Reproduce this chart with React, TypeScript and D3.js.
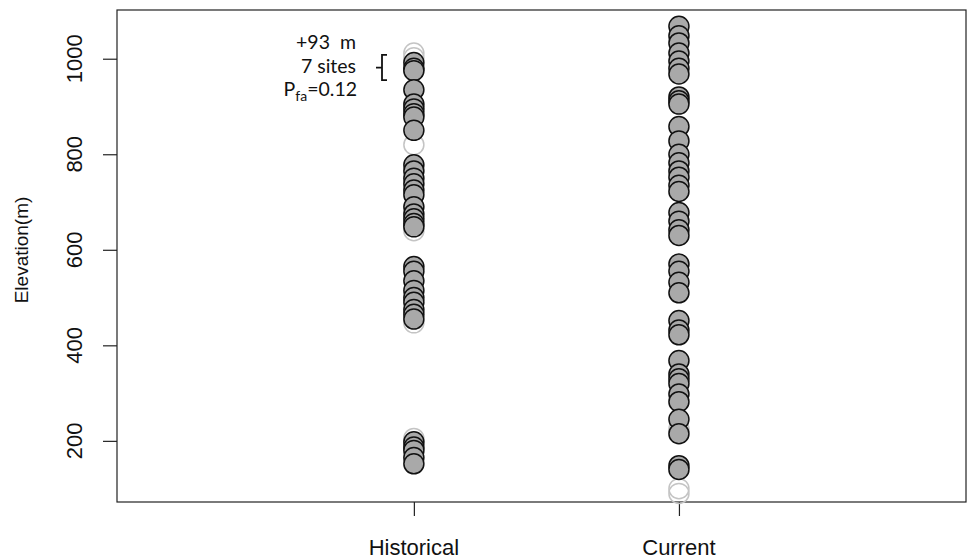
import React, { useEffect, useRef } from 'react';
import * as d3 from 'd3';

// groups on the x axis
const groups = ['Historical', 'Current'];

// elevation of sites kept in the analysis (filled)
const historicalSites = [
  992, 980, 975, 935, 905, 895, 885, 878, 850,
  778, 765, 750, 738, 725, 715, 690, 675, 665, 655, 648,
  565, 555, 535, 515, 500, 490, 475, 465, 455,
  198, 187, 180, 165, 152,
];
const currentSites = [
  1068, 1048, 1033, 1012, 995, 980, 968, 920, 912, 905,
  858, 828, 800, 782, 765, 752, 735, 722, 678, 660, 642, 630,
  570, 555, 532, 510, 452, 432, 422, 368, 340, 330, 320, 298, 282,
  245, 215, 148, 140,
];

// sites dropped (open grey rings)
const historicalDropped = [1012, 1002, 900, 820, 640, 447, 205, 195];
const currentDropped = [225, 100, 90];

const yTicks = [200, 400, 600, 800, 1000];

const annotationLines = ['+93  m', '7 sites'];
const pfaValue = '=0.12';

const App = () => {
  const svgRef = useRef<SVGSVGElement>(null);

  useEffect(() => {
    const svg = d3.select(svgRef.current);
    svg.selectAll('*').remove();

    const width = 972;
    const height = 559;
    const margin = { top: 10, right: 6, bottom: 57, left: 117 };
    const font = '"Liberation Sans", Arial, sans-serif';

    // x: group 1 and 2, padded like R's xlim
    const x = d3.scaleLinear()
      .domain([-0.12, 3.083])
      .range([margin.left, width - margin.right]);

    const y = d3.scaleLinear()
      .domain([72, 1102])
      .range([height - margin.bottom, margin.top]);

    // frame
    svg.append('rect')
      .attr('x', margin.left)
      .attr('y', margin.top)
      .attr('width', width - margin.right - margin.left)
      .attr('height', height - margin.bottom - margin.top)
      .attr('fill', 'none')
      .attr('stroke', '#222')
      .attr('stroke-width', 1.2);

    // y axis
    const yAxis = svg.append('g')
      .attr('transform', `translate(${margin.left},0)`)
      .call(d3.axisLeft(y).tickValues(yTicks).tickSize(14).tickFormat(() => ''));
    yAxis.select('.domain').remove();
    yAxis.selectAll('line').attr('stroke', '#222').attr('stroke-width', 1.2);

    svg.append('g')
      .selectAll('text')
      .data(yTicks)
      .join('text')
      .attr('transform', d => `translate(82,${y(d)}) rotate(-90)`)
      .attr('text-anchor', 'middle')
      .attr('font-family', font)
      .attr('font-size', 22)
      .attr('fill', '#111')
      .text(d => d);

    svg.append('text')
      .attr('transform', `translate(28,250) rotate(-90)`)
      .attr('text-anchor', 'middle')
      .attr('font-family', font)
      .attr('font-size', 19)
      .attr('fill', '#111')
      .text('Elevation(m)');

    // x axis
    const xAxis = svg.append('g')
      .attr('transform', `translate(0,${height - margin.bottom})`)
      .call(d3.axisBottom(x).tickValues([1, 2]).tickSize(14).tickFormat(() => ''));
    xAxis.select('.domain').remove();
    xAxis.selectAll('line').attr('stroke', '#222').attr('stroke-width', 1.2);

    svg.append('g')
      .selectAll('text')
      .data(groups)
      .join('text')
      .attr('x', (d, i) => x(i + 1))
      .attr('y', 555)
      .attr('text-anchor', 'middle')
      .attr('font-family', font)
      .attr('font-size', 22)
      .attr('fill', '#111')
      .text(d => d);

    // points
    const r = 10;
    const dropped = [historicalDropped, currentDropped];
    const kept = [historicalSites, currentSites];

    dropped.forEach((vals, i) => {
      svg.append('g')
        .selectAll('circle')
        .data(vals)
        .join('circle')
        .attr('cx', x(i + 1))
        .attr('cy', d => y(d))
        .attr('r', r)
        .attr('fill', 'none')
        .attr('stroke', '#c4c4c4')
        .attr('stroke-width', 1.5);
    });

    kept.forEach((vals, i) => {
      svg.append('g')
        .selectAll('circle')
        .data(vals)
        .join('circle')
        .attr('cx', x(i + 1))
        .attr('cy', d => y(d))
        .attr('r', r)
        .attr('fill', '#a9a9a9')
        .attr('stroke', '#111')
        .attr('stroke-width', 1.5);
    });

    // annotation with bracket
    const annFont = 'Lato, "Open Sans", sans-serif';
    const ann = svg.append('g');
    annotationLines.forEach((t, i) => {
      ann.append('text')
        .attr('x', 356)
        .attr('y', 49 + i * 24)
        .attr('text-anchor', 'end')
        .attr('font-family', annFont)
        .attr('font-size', 19.5)
        .attr('fill', '#111')
        .style('white-space', 'pre')
        .text(t);
    });
    const pfa = ann.append('text')
      .attr('x', 357)
      .attr('y', 96)
      .attr('text-anchor', 'end')
      .attr('font-family', annFont)
      .attr('font-size', 19.5)
      .attr('fill', '#111');
    pfa.append('tspan').text('P');
    pfa.append('tspan').attr('font-size', 14).attr('dy', 5).text('fa');
    pfa.append('tspan').attr('dy', -5).text(pfaValue);

    const bx = 382;
    const bTop = y(1008);
    const bBot = y(955);
    const bMid = (bTop + bBot) / 2;
    ann.append('path')
      .attr('d', `M${bx + 5},${bTop} H${bx} V${bBot} H${bx + 5} M${bx},${bMid} H${bx - 6}`)
      .attr('fill', 'none')
      .attr('stroke', '#111')
      .attr('stroke-width', 1.8);
  }, []);

  return (
    <svg
      ref={svgRef}
      width={972}
      height={559}
      style={{ position: 'absolute', left: 0, top: 0, background: '#fff' }}
    />
  );
};

export default App;
